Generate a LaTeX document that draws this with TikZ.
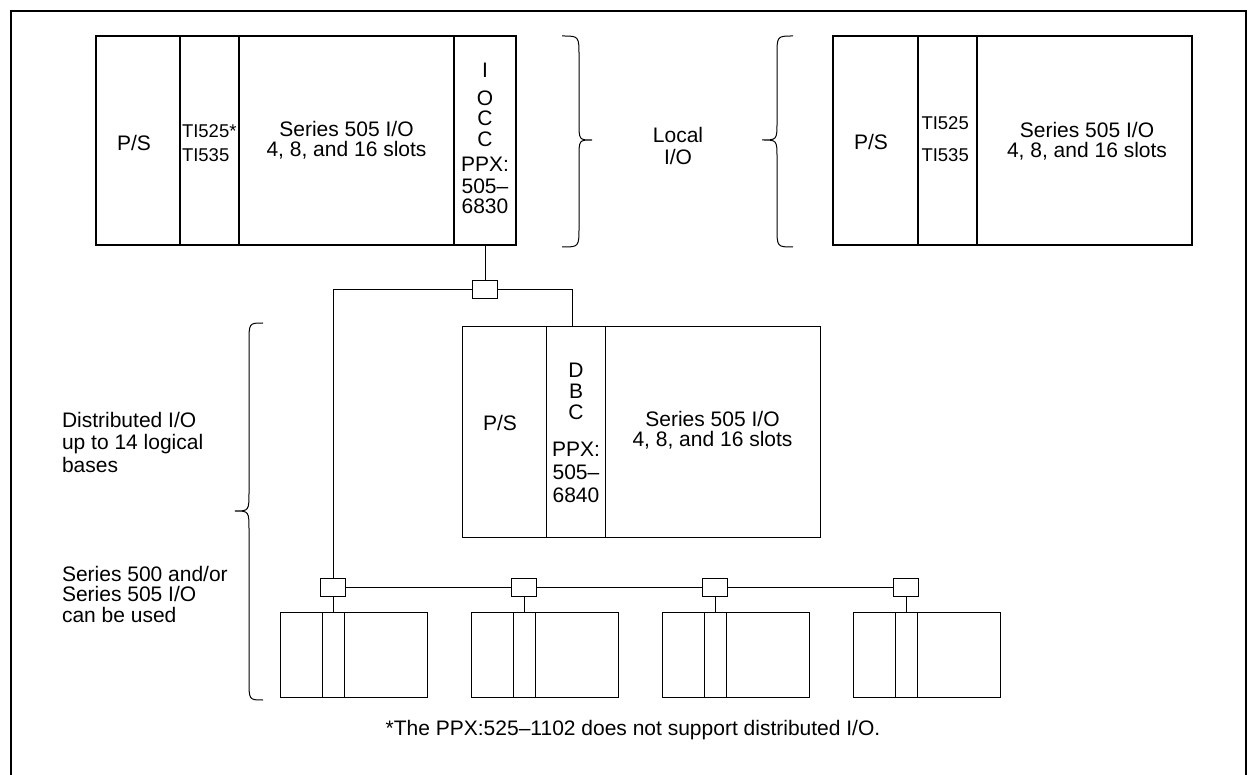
\documentclass[tikz,border=0pt]{standalone}
\usepackage{fontspec}
\setmainfont{Liberation Sans}
\begin{document}
\begin{tikzpicture}[x=1pt,y=-1pt,
  every node/.style={inner sep=0pt,outer sep=0pt},
  col/.style 2 args={draw,line width=1pt,minimum width=#1pt,minimum height=#2pt,anchor=north west},
  bigcol/.style 2 args={col={#1}{#2},line width=1.3pt},
  busbox/.style={draw,line width=1pt,minimum width=25pt,minimum height=18pt,fill=white},
  wire/.style={line width=1pt},
  brace/.style={line width=1pt},
  txt/.style={font=\fontsize{21}{20.5}\selectfont,align=center},
  small/.style={font=\fontsize{18.5}{24}\selectfont,align=left,anchor=west}
]
\useasboundingbox (0,0) rectangle (1248,775);

% frame
\draw[line width=2pt] (11,775) -- (11,11) -- (1246,11) -- (1246,775);

% top-left rack
\node[bigcol={84}{209}] (t1ps) at (96,36) {};
\node[bigcol={59}{209}] (t1cpu) at (180,36) {};
\node[bigcol={215}{209}] (t1io) at (239,36) {};
\node[bigcol={62}{209}] (t1iocc) at (454,36) {};
\node[txt] (t1pst) at (134,143) {P/S};
\node[small] (t1cput) at (182,143) {TI525*\\TI535};
\node[txt] (t1iot) at (346.5,140) {Series 505 I/O\\4, 8, and 16 slots};
\node[txt,font=\fontsize{21}{20.5}\selectfont] (t1iocct) at (485,138.5) {I\\[7.5pt]O\\C\\C\\[4.5pt]PPX:\\[1.5pt]505–\\6830};

% top-right rack
\node[bigcol={85}{209}] (t2ps) at (833,36) {};
\node[bigcol={59}{209}] (t2cpu) at (918,36) {};
\node[bigcol={215}{209}] (t2io) at (977,36) {};
\node[txt] (t2pst) at (871,142) {P/S};
\node[small,font=\fontsize{18.5}{32}\selectfont] (t2cput) at (921.5,139) {TI525\\TI535};
\node[txt] (t2iot) at (1087,141) {Series 505 I/O\\4, 8, and 16 slots};

% local I/O
\node[txt,font=\fontsize{21}{22}\selectfont] (local) at (678,146) {Local\\I/O};
\draw[brace] (562,36) .. controls (579,36) .. (579,56) -- (579,122) .. controls (579,140) .. (592,140) .. controls (579,140) .. (579,158) -- (579,227) .. controls (579,247) .. (562,247);
\draw[brace] (793,36) .. controls (777,36) .. (777,56) -- (777,122) .. controls (777,140) .. (762,140) .. controls (777,140) .. (777,158) -- (777,227) .. controls (777,247) .. (793,247);

% middle rack
\node[col={84}{210}] (mps) at (462,327) {};
\node[col={59}{210}] (mdbc) at (546,327) {};
\node[col={215}{210}] (mio) at (605,327) {};
\node[txt] (mpst) at (500,423) {P/S};
\node[txt,font=\fontsize{21}{21}\selectfont] (mdbct) at (576,433) {D\\B\\C\\[16pt]PPX:\\[2pt]505–\\[2pt]6840};
\node[txt] (miot) at (712.5,430) {Series 505 I/O\\4, 8, and 16 slots};

% bottom racks
\foreach \i/\x in {1/280,2/471,3/662,4/853}{
  \node[col={42}{85}] (ra\i) at (\x,612) {};
  \node[col={22}{85}] (rb\i) at (\x+42,612) {};
  \node[col={83}{85}] (rc\i) at (\x+64,612) {};
  \node[busbox] (bb\i) at (\x+53,587) {};
  \draw[wire] (bb\i.south) -- (rb\i.north);
}
\foreach \a/\b in {1/2,2/3,3/4} \draw[wire] (bb\a.east) -- (bb\b.west);

% bus from IOCC
\node[busbox] (tb) at (485,290) {};
\coordinate (mjoin) at (572,327);
\draw[wire] (t1iocc.south) -- (tb.north);
\draw[wire] (tb.west) -| (bb1.north);
\draw[wire] (tb.east) -| (mjoin);

% distributed brace and texts
\draw[brace] (263,323) .. controls (249,323) .. (249,343) -- (249,491) .. controls (249,511) .. (235,511) .. controls (249,511) .. (249,531) -- (249,680) .. controls (249,700) .. (263,700);
\node[txt,align=left,anchor=west,font=\fontsize{21}{22.5}\selectfont] (dist) at (62,442) {Distributed I/O\\up to 14 logical\\bases};
\node[txt,align=left,anchor=west,font=\fontsize{21}{20.5}\selectfont] (s500) at (62,594) {Series 500 and/or\\Series 505 I/O\\can be used};

% footnote
\node[txt] (foot) at (633,730) {*The PPX:525–1102 does not support distributed I/O.};
\end{tikzpicture}
\end{document}
